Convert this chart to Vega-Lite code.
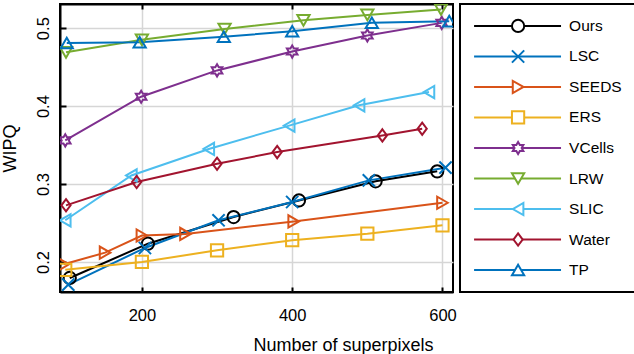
{
  "$schema": "https://vega.github.io/schema/vega-lite/v6.json",
  "padding": {"left": 0, "top": 2, "right": 0, "bottom": 0},
  "background": "white",
  "config": {
    "font": "Liberation Sans",
    "view": {"stroke": "black", "strokeWidth": 2},
    "axis": {"labelColor": "black", "titleColor": "black", "labelFont": "Liberation Sans", "titleFont": "Liberation Sans", "titleFontWeight": "normal", "gridColor": "#d6d6d6", "gridWidth": 1.5, "domainColor": "black", "domainWidth": 2, "tickColor": "black", "tickWidth": 2}
  },
  "datasets": {
    "series": [
      {"method": "Ours", "x": 104, "y": 0.1795}, {"method": "Ours", "x": 208, "y": 0.2235}, {"method": "Ours", "x": 322, "y": 0.2577}, {"method": "Ours", "x": 409, "y": 0.279}, {"method": "Ours", "x": 511, "y": 0.3035}, {"method": "Ours", "x": 593, "y": 0.3163},
      {"method": "LSC", "x": 102, "y": 0.171}, {"method": "LSC", "x": 204, "y": 0.218}, {"method": "LSC", "x": 302, "y": 0.2535}, {"method": "LSC", "x": 400, "y": 0.277}, {"method": "LSC", "x": 502, "y": 0.3047}, {"method": "LSC", "x": 604, "y": 0.321},
      {"method": "SEEDS", "x": 96, "y": 0.197}, {"method": "SEEDS", "x": 151, "y": 0.212}, {"method": "SEEDS", "x": 200, "y": 0.234}, {"method": "SEEDS", "x": 258, "y": 0.236}, {"method": "SEEDS", "x": 402, "y": 0.252}, {"method": "SEEDS", "x": 600, "y": 0.276},
      {"method": "ERS", "x": 98, "y": 0.19}, {"method": "ERS", "x": 200, "y": 0.2}, {"method": "ERS", "x": 300, "y": 0.215}, {"method": "ERS", "x": 400, "y": 0.228}, {"method": "ERS", "x": 500, "y": 0.2363}, {"method": "ERS", "x": 600, "y": 0.247},
      {"method": "VCells", "x": 98, "y": 0.356}, {"method": "VCells", "x": 199, "y": 0.412}, {"method": "VCells", "x": 300, "y": 0.4458}, {"method": "VCells", "x": 400, "y": 0.47}, {"method": "VCells", "x": 500, "y": 0.4906}, {"method": "VCells", "x": 599, "y": 0.5068},
      {"method": "LRW", "x": 99, "y": 0.469}, {"method": "LRW", "x": 200, "y": 0.485}, {"method": "LRW", "x": 310, "y": 0.499}, {"method": "LRW", "x": 415, "y": 0.51}, {"method": "LRW", "x": 500, "y": 0.517}, {"method": "LRW", "x": 598, "y": 0.524},
      {"method": "SLIC", "x": 98, "y": 0.2535}, {"method": "SLIC", "x": 186, "y": 0.311}, {"method": "SLIC", "x": 289, "y": 0.345}, {"method": "SLIC", "x": 396, "y": 0.375}, {"method": "SLIC", "x": 489, "y": 0.401}, {"method": "SLIC", "x": 582, "y": 0.418},
      {"method": "Water", "x": 99, "y": 0.2727}, {"method": "Water", "x": 193, "y": 0.3026}, {"method": "Water", "x": 300, "y": 0.326}, {"method": "Water", "x": 380, "y": 0.341}, {"method": "Water", "x": 520, "y": 0.3624}, {"method": "Water", "x": 573, "y": 0.371},
      {"method": "TP", "x": 100, "y": 0.481}, {"method": "TP", "x": 197, "y": 0.482}, {"method": "TP", "x": 309, "y": 0.489}, {"method": "TP", "x": 400, "y": 0.496}, {"method": "TP", "x": 506, "y": 0.507}, {"method": "TP", "x": 609, "y": 0.509}
    ],
    "legend": [
      {"method": "Ours"}, {"method": "LSC"}, {"method": "SEEDS"}, {"method": "ERS"}, {"method": "VCells"}, {"method": "LRW"}, {"method": "SLIC"}, {"method": "Water"}, {"method": "TP"}
    ]
  },
  "spacing": 1,
  "hconcat": [
    {
      "width": 393,
      "height": 288,
      "data": {"name": "series"},
      "resolve": {"axis": {"x": "independent", "y": "independent"}},
      "layer": [
        {
          "mark": {"type": "line", "strokeWidth": 2, "clip": true},
          "encoding": {
            "x": {"field": "x", "type": "quantitative", "scale": {"domain": [91, 614], "nice": false, "zero": false},
              "axis": {"orient": "bottom", "values": [200, 400, 600], "grid": true, "tickSize": -5, "labelPadding": 33, "labelBaseline": "alphabetic", "labelFontSize": 16.5, "title": "Number of superpixels", "titleFontSize": 18, "titleX": 283, "titleY": 58, "titleBaseline": "alphabetic", "titleAlign": "center", "titleAnchor": null}},
            "y": {"field": "y", "type": "quantitative", "scale": {"domain": [0.1615, 0.531], "nice": false, "zero": false},
              "axis": {"orient": "left", "values": [0.2, 0.3, 0.4, 0.5], "format": ".1f", "grid": true, "tickSize": -6, "labelPadding": 17.2, "labelAngle": -90, "labelAlign": "center", "labelBaseline": "alphabetic", "labelFontSize": 16.5, "title": "WIPQ", "titleFontSize": 18, "titleAngle": -90, "titleBaseline": "middle", "titleX": -50}},
            "color": {"field": "method", "type": "nominal", "scale": {"domain": ["Ours", "LSC", "SEEDS", "ERS", "VCells", "LRW", "SLIC", "Water", "TP"], "range": ["#000000", "#0072BD", "#D95319", "#EDB120", "#7E2F8E", "#77AC30", "#4DBEEE", "#A2142F", "#0072BD"]}, "legend": null},
            "detail": {"field": "method", "type": "nominal"}
          }
        },
        {
          "mark": {"type": "point", "filled": false, "strokeWidth": 2, "opacity": 1, "clip": true},
          "encoding": {
            "x": {"field": "x", "type": "quantitative", "axis": {"orient": "top", "values": [200, 400, 600], "grid": false, "labels": false, "tickSize": -5, "title": null}},
            "y": {"field": "y", "type": "quantitative", "axis": null},
            "color": {"field": "method", "type": "nominal", "legend": null},
            "shape": {"field": "method", "type": "nominal", "scale": {"domain": ["Ours", "LSC", "SEEDS", "ERS", "VCells", "LRW", "SLIC", "Water", "TP"], "range": ["circle", "M-1,-1L1,1M1,-1L-1,1", "triangle-right", "square", "M0,-1L0.289,-0.5L0.866,-0.5L0.577,0L0.866,0.5L0.289,0.5L0,1L-0.289,0.5L-0.866,0.5L-0.577,0L-0.866,-0.5L-0.289,-0.5Z", "triangle-down", "triangle-left", "M0,-1L0.75,0L0,1L-0.75,0Z", "triangle-up"]}, "legend": null},
            "size": {"field": "method", "type": "ordinal", "scale": {"domain": ["Ours", "LSC", "SEEDS", "ERS", "VCells", "LRW", "SLIC", "Water", "TP"], "range": [150, 150, 360, 144, 256, 380, 360, 420, 360]}, "legend": null}
          }
        }
      ]
    },
    {
      "width": 176,
      "height": 288,
      "data": {"name": "legend"},
      "layer": [
        {
          "mark": {"type": "rule", "strokeWidth": 2},
          "encoding": {
            "x": {"datum": 0.08, "type": "quantitative", "scale": {"domain": [0, 1], "nice": false, "zero": false}, "axis": null},
            "x2": {"datum": 0.574},
            "y": {"field": "method", "type": "nominal", "sort": ["Ours", "LSC", "SEEDS", "ERS", "VCells", "LRW", "SLIC", "Water", "TP"], "scale": {"type": "point", "padding": 0.72}, "axis": null},
            "color": {"field": "method", "type": "nominal", "scale": {"domain": ["Ours", "LSC", "SEEDS", "ERS", "VCells", "LRW", "SLIC", "Water", "TP"], "range": ["#000000", "#0072BD", "#D95319", "#EDB120", "#7E2F8E", "#77AC30", "#4DBEEE", "#A2142F", "#0072BD"]}, "legend": null}
          }
        },
        {
          "mark": {"type": "point", "filled": false, "strokeWidth": 2, "opacity": 1, "fill": "white"},
          "encoding": {
            "x": {"datum": 0.33, "type": "quantitative"},
            "y": {"field": "method", "type": "nominal", "sort": ["Ours", "LSC", "SEEDS", "ERS", "VCells", "LRW", "SLIC", "Water", "TP"]},
            "color": {"field": "method", "type": "nominal", "legend": null},
            "shape": {"field": "method", "type": "nominal", "scale": {"domain": ["Ours", "LSC", "SEEDS", "ERS", "VCells", "LRW", "SLIC", "Water", "TP"], "range": ["circle", "M-1,-1L1,1M1,-1L-1,1", "triangle-right", "square", "M0,-1L0.289,-0.5L0.866,-0.5L0.577,0L0.866,0.5L0.289,0.5L0,1L-0.289,0.5L-0.866,0.5L-0.577,0L-0.866,-0.5L-0.289,-0.5Z", "triangle-down", "triangle-left", "M0,-1L0.75,0L0,1L-0.75,0Z", "triangle-up"]}, "legend": null},
            "size": {"field": "method", "type": "ordinal", "scale": {"domain": ["Ours", "LSC", "SEEDS", "ERS", "VCells", "LRW", "SLIC", "Water", "TP"], "range": [150, 150, 360, 144, 256, 380, 360, 420, 360]}, "legend": null}
          }
        },
        {
          "mark": {"type": "text", "align": "left", "baseline": "middle", "fontSize": 15.5, "color": "black", "font": "Liberation Sans"},
          "encoding": {
            "x": {"datum": 0.62, "type": "quantitative"},
            "y": {"field": "method", "type": "nominal", "sort": ["Ours", "LSC", "SEEDS", "ERS", "VCells", "LRW", "SLIC", "Water", "TP"]},
            "text": {"field": "method", "type": "nominal"}
          }
        }
      ]
    }
  ]
}
